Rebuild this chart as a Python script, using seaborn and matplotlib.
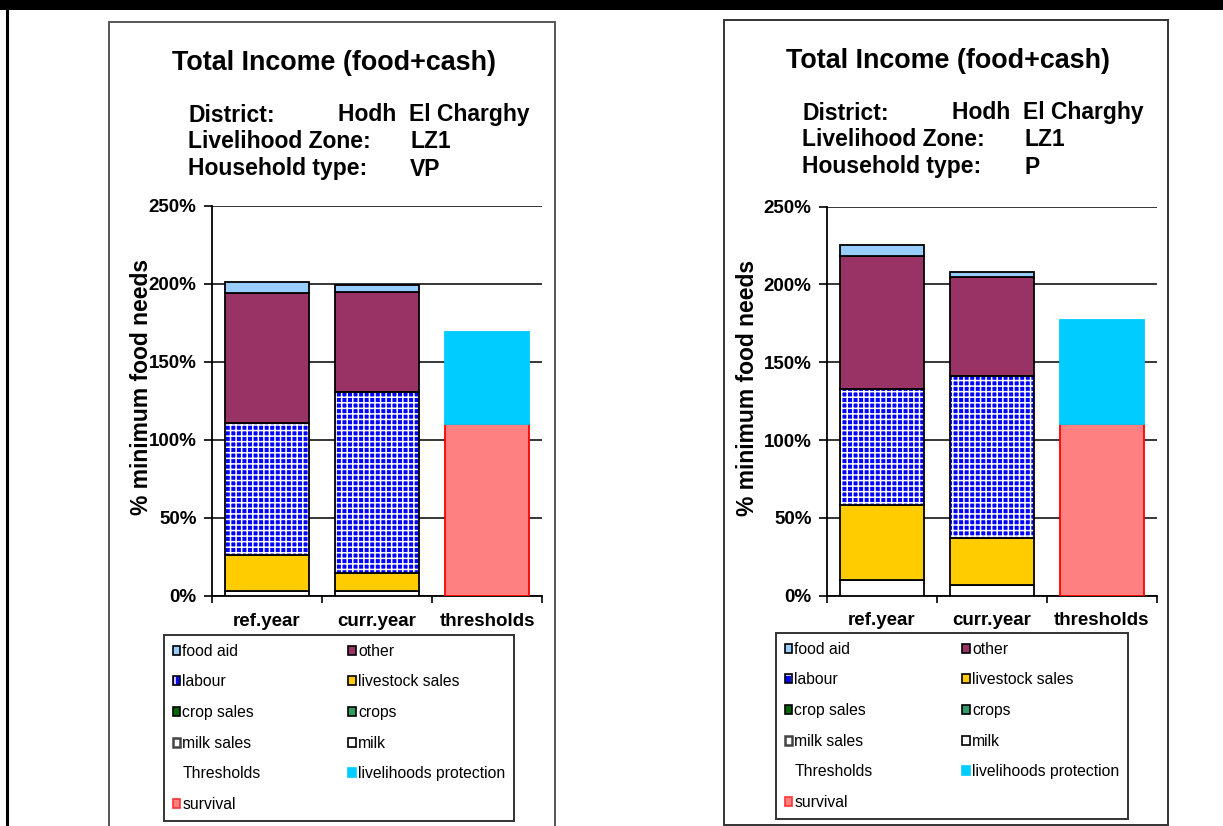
import numpy as np
import matplotlib
matplotlib.use("Agg")
import matplotlib.pyplot as plt
from matplotlib.patches import Patch, Rectangle
from matplotlib.lines import Line2D
from matplotlib.legend_handler import HandlerTuple
import seaborn as sns

# ---------------------------------------------------------------- data
categories = ["ref.year", "curr.year", "thresholds"]
income_years = ["ref.year", "curr.year"]

# Income by source, % of minimum food needs, one value per year
# Very poor households (VP)
vp_milk = [3, 3]
vp_milk_sales = [0, 0]
vp_crops = [0, 0]
vp_crop_sales = [0, 0]
vp_livestock_sales = [23, 12]
vp_labour = [85, 116]
vp_other = [83, 64]
vp_food_aid = [7, 4.5]
vp_survival = [110]
vp_livelihoods_protection = [59]

# Poor households (P)
p_milk = [10, 7]
p_milk_sales = [0, 0]
p_crops = [0, 0]
p_crop_sales = [0, 0]
p_livestock_sales = [48, 30]
p_labour = [75, 104]
p_other = [85, 64]
p_food_aid = [7, 3]
p_survival = [110]
p_livelihoods_protection = [67]

y_ticks = [0, 50, 100, 150, 200, 250]
y_tick_labels = [f"{v}%" for v in y_ticks]

district = "Hodh  El Charghy"
zone = "LZ1"

# ---------------------------------------------------------------- style
sns.set_theme(style="white")
plt.rcParams["font.family"] = ["Liberation Sans", "DejaVu Sans"]
plt.rcParams["hatch.linewidth"] = 1.1

W, H = 1223, 826
BAR_W = 0.76
EDGE_LW = 1.3

colors = {
    "food aid": "#99CCFF",
    "other": "#993366",
    "labour": "#0000FF",
    "livestock sales": "#FFCC00",
    "crop sales": "#006600",
    "crops": "#339966",
    "milk sales": "#FFFFFF",
    "milk": "#FFFFFF",
    "livelihoods protection": "#00CCFF",
    "survival": "#FF8080",
}


def draw_panel(ax, layers, survival, protection, hh_type, title_xy, label_x):
    base = np.zeros(len(income_years))
    for name, values in layers:
        vals = np.asarray(values, dtype=float)
        if vals.sum() == 0:
            continue
        if name == "labour":
            sns.barplot(x=income_years, y=vals, order=categories, bottom=base,
                        color=colors[name], saturation=1, edgecolor="white",
                        linewidth=0, hatch="+++", width=BAR_W, ax=ax, zorder=3)
            sns.barplot(x=income_years, y=vals, order=categories, bottom=base,
                        color="black", saturation=1, fill=False,
                        linewidth=EDGE_LW, width=BAR_W, ax=ax, zorder=4)
        else:
            sns.barplot(x=income_years, y=vals, order=categories, bottom=base,
                        color=colors[name], saturation=1, edgecolor="black",
                        linewidth=EDGE_LW, width=BAR_W, ax=ax, zorder=3)
        base = base + vals

    sns.barplot(x=["thresholds"], y=survival, order=categories,
                color=colors["survival"], saturation=1, edgecolor="#FF0000",
                linewidth=EDGE_LW, width=BAR_W, ax=ax, zorder=3)
    sns.barplot(x=["thresholds"], y=protection, order=categories,
                bottom=survival, color=colors["livelihoods protection"],
                saturation=1, edgecolor=colors["livelihoods protection"],
                linewidth=EDGE_LW, width=BAR_W, ax=ax, zorder=3)

    ax.set_xlim(-0.5, len(categories) - 0.5)
    ax.set_ylim(0, 250)
    ax.set_yticks(y_ticks)
    ax.set_yticklabels(y_tick_labels, fontsize=13.5, fontweight="bold")
    ax.set_xticks(range(len(categories)))
    ax.set_xticklabels(categories, fontsize=13.5, fontweight="bold")
    ax.set_xticks(np.arange(-0.5, len(categories), 1.0), minor=True)
    ax.tick_params(axis="x", which="major", length=0, pad=12, colors="black")
    ax.tick_params(axis="x", which="minor", length=5, width=1.2,
                   direction="out", colors="black", bottom=True)
    ax.tick_params(axis="y", which="major", length=6, width=1.2,
                   direction="out", pad=5, colors="black", left=True)
    ax.set_xlabel("")
    ax.set_ylabel("% minimum food needs", fontsize=16.5, fontweight="bold",
                  color="black")
    ax.yaxis.set_label_coords(label_x, 0.535)
    ax.grid(axis="y", color="black", linewidth=1.1)
    ax.grid(axis="x", visible=False)
    ax.set_axisbelow(True)
    for side in ("top", "right"):
        ax.spines[side].set_visible(False)
    for side in ("left", "bottom"):
        ax.spines[side].set_color("black")
        ax.spines[side].set_linewidth(1.3)

    tx, ty = title_xy
    fig.text(tx / W, 1 - ty / H, "Total Income (food+cash)", fontsize=19.4,
             fontweight="bold", va="center", ha="left", color="black")
    rows = [("District:", district, 150), ("Livelihood Zone:", zone, 222),
            ("Household type:", hh_type, 222)]
    for i, (lab, val, off) in enumerate(rows):
        y = 1 - (ty + 52 + 27 * i) / H
        fig.text((tx + 16) / W, y, lab, fontsize=16.5, fontweight="bold",
                 va="center", ha="left", color="black")
        fig.text((tx + 16 + off) / W, y, val, fontsize=16.5,
                 fontweight="bold", va="center", ha="left", color="black")


def add_legend(x0, y_top, width, height):
    hatch_patch = Patch(facecolor=colors["labour"], edgecolor="white",
                        hatch="+", linewidth=0)
    outline = Patch(facecolor="none", edgecolor="black", linewidth=1.2)
    blank = Patch(facecolor="none", edgecolor="none")

    def sq(name, edge="black"):
        return Patch(facecolor=colors[name], edgecolor=edge, linewidth=1.2)

    col1 = [(sq("food aid"), "food aid"),
            ((hatch_patch, outline), "labour"),
            (sq("crop sales"), "crop sales"),
            (Patch(facecolor="white", edgecolor="#444444", linewidth=1.8),
             "milk sales"),
            (blank, "Thresholds"),
            (sq("survival", "#FF3333"), "survival")]
    col2 = [(sq("other"), "other"),
            (sq("livestock sales"), "livestock sales"),
            (sq("crops"), "crops"),
            (sq("milk"), "milk"),
            (sq("livelihoods protection", colors["livelihoods protection"]),
             "livelihoods protection")]
    entries = col1 + col2
    leg = fig.legend([h for h, _ in entries], [l for _, l in entries],
                     ncol=2, loc="upper left",
                     bbox_to_anchor=(x0 / W, 1 - (y_top + height) / H,
                                     width / W, height / H),
                     mode="expand", borderaxespad=0, frameon=True,
                     fancybox=False, shadow=False, edgecolor="black",
                     fontsize=11.3, handlelength=0.5, handleheight=0.5,
                     handletextpad=0.12, labelspacing=1.0, borderpad=0.55,
                     handler_map={tuple: HandlerTuple(ndivide=1, pad=0)})
    leg.get_frame().set_linewidth(1.4)
    for t in leg.get_texts():
        t.set_color("black")
    return leg


fig = plt.figure(figsize=(W / 100, H / 100), dpi=100)
fig.patch.set_facecolor("white")

# page decoration: top band, margin rule and chart frames
fig.patches.append(Rectangle((0, 1 - 10 / H), 1, 10 / H, transform=fig.transFigure,
                             facecolor="black", edgecolor="none", zorder=0))
fig.lines.append(Line2D([7 / W, 7 / W], [0, 1 - 10 / H], transform=fig.transFigure,
                        color="black", linewidth=2.2))
fig.patches.append(Rectangle((109 / W, -0.01), (555 - 109) / W, 1.01 - 22 / H,
                             transform=fig.transFigure, fill=False,
                             edgecolor="#555555", linewidth=1.4))
fig.patches.append(Rectangle((724 / W, 1 - 825 / H), (1168 - 724) / W,
                             (825 - 20) / H, transform=fig.transFigure,
                             fill=False, edgecolor="#333333", linewidth=1.4))

ax1 = fig.add_axes([212 / W, 1 - 596 / H, 330 / W, 390 / H])
ax2 = fig.add_axes([827 / W, 1 - 595.7 / H, 330 / W, 389.2 / H])

vp_layers = [("milk", vp_milk), ("milk sales", vp_milk_sales),
             ("crops", vp_crops), ("crop sales", vp_crop_sales),
             ("livestock sales", vp_livestock_sales), ("labour", vp_labour),
             ("other", vp_other), ("food aid", vp_food_aid)]
p_layers = [("milk", p_milk), ("milk sales", p_milk_sales),
            ("crops", p_crops), ("crop sales", p_crop_sales),
            ("livestock sales", p_livestock_sales), ("labour", p_labour),
            ("other", p_other), ("food aid", p_food_aid)]

draw_panel(ax1, vp_layers, vp_survival, vp_livelihoods_protection, "VP",
           (172, 63), -0.178)
draw_panel(ax2, p_layers, p_survival, p_livelihoods_protection, "P",
           (786, 61), -0.207)

add_legend(164, 635, 350, 185)
add_legend(776, 633, 352, 184)

fig.savefig("out.png", dpi=100)
